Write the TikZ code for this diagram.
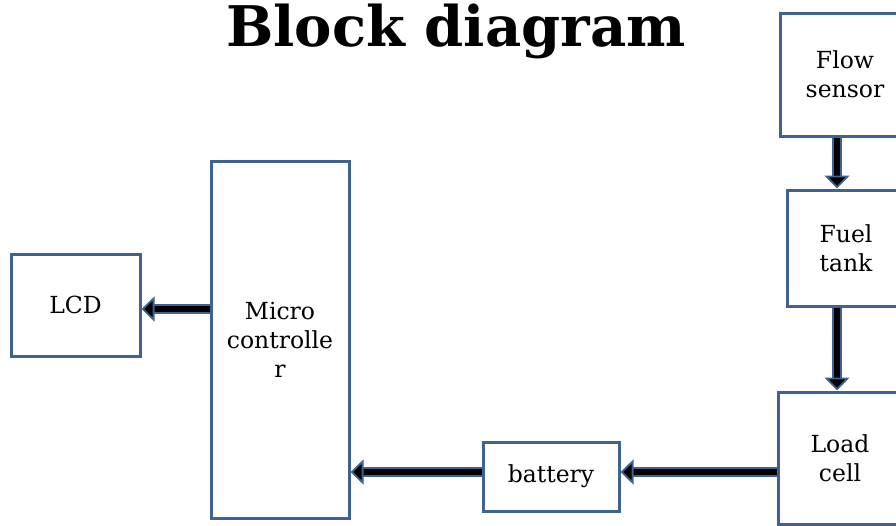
\documentclass[tikz,border=0pt]{standalone}
\usepackage{fontspec}
\setmainfont{DejaVu Serif}
\usetikzlibrary{arrows.meta}
\definecolor{edge}{RGB}{62,98,148}
\tikzset{
  blk/.style={draw=edge,line width=3pt,fill=white,align=center,inner sep=0pt,
    font=\fontsize{23.5}{29}\selectfont},
  feed/.style={draw=black,line width=6pt,
    -{Triangle[length=13pt,width=25pt,fill=black,color=edge,line width=1.8pt]},
    preaction={draw=edge,line width=10pt,-,shorten >=12pt}},
}
\begin{document}
\begin{tikzpicture}[x=1pt,y=-1pt]
      \clip (0,0) rectangle (896,525);
      \fill[white] (0,0) rectangle (896,525);

      \node[font=\fontsize{56}{60}\selectfont\bfseries,anchor=base] (title) at (456,46) {Block diagram};

      \node[blk,minimum width=129pt,minimum height=102pt] (lcd) at (75.5,305) {LCD};
      \node[blk,minimum width=138pt,minimum height=357pt] (mcu) at (280,339.5) {Micro\\controlle\\r};
      \node[blk,minimum width=136pt,minimum height=69pt] (bat) at (551,476.5) {battery};
      \node[blk,minimum width=130pt,minimum height=123pt] (flow) at (845,74.5) {Flow\\sensor};
      \node[blk,minimum width=118pt,minimum height=116pt] (tank) at (846,248) {Fuel\\tank};
      \node[blk,minimum width=124pt,minimum height=132pt] (load) at (840,458) {Load\\cell};

      \draw[feed] ([xshift=-8pt]flow.south) -- ([xshift=-8pt]flow.south |- tank.north);
      \draw[feed] ([xshift=-9pt]tank.south) -- ([xshift=-9pt]tank.south |- load.north);
      \draw[feed] ([yshift=4.5pt]load.west |- bat.east) -- ([yshift=4.5pt]bat.east);
      \draw[feed] ([yshift=4.5pt]bat.west) -- ([yshift=4.5pt]mcu.east |- bat.west);
      \draw[feed] ([yshift=-4pt]mcu.west |- lcd.east) -- ([yshift=-4pt]lcd.east);
    \end{tikzpicture}
\end{document}
